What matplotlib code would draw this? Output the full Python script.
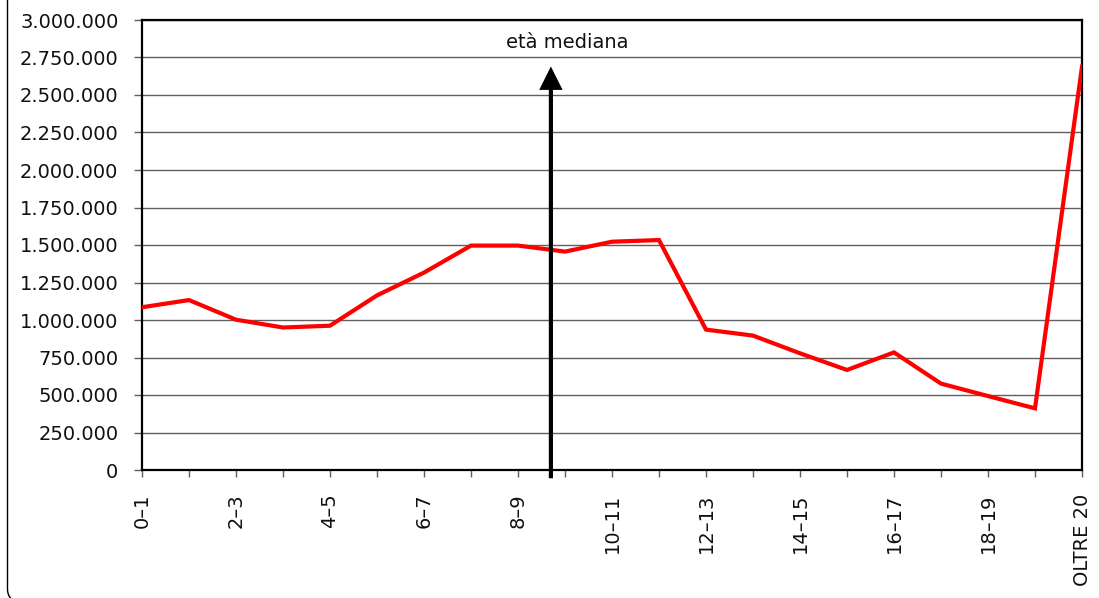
import matplotlib
matplotlib.use("Agg")
import matplotlib.pyplot as plt
from matplotlib.patches import FancyBboxPatch
from matplotlib.transforms import IdentityTransform

# ---- data ----
age_positions = list(range(21))
tick_labels = ["0–1", "", "2–3", "", "4–5", "", "6–7", "", "8–9", "",
               "10–11", "", "12–13", "", "14–15", "", "16–17", "", "18–19", "",
               "OLTRE 20"]
values = [1085000, 1133000, 1002000, 950000, 962000, 1164000, 1316000,
          1496000, 1496000, 1456000, 1522000, 1533000, 936000, 896000,
          778000, 667000, 784000, 576000, 493000, 411000, 2689000]
y_ticks = [0, 250000, 500000, 750000, 1000000, 1250000, 1500000,
           1750000, 2000000, 2250000, 2500000, 2750000, 3000000]
median_x = 8.7
median_label = "età mediana"

plt.rcParams['font.family'] = ['DejaVu Sans']

fig = plt.figure(figsize=(10.99, 5.98), dpi=100)
ax = fig.add_axes([142/1099, 1 - 470/598, (1082 - 142)/1099, (470 - 20)/598])

ax.plot(age_positions, values, color='#ff0000', lw=3, zorder=3,
        solid_joinstyle='miter')

ax.set_xlim(0, 20)
ax.set_ylim(0, 3000000)
ax.set_yticks(y_ticks)
ax.set_yticklabels([f"{v:,.0f}".replace(",", ".") for v in y_ticks])
ax.set_xticks(age_positions)
ax.set_xticklabels(tick_labels, rotation=90, va='top', ha='center')

ax.yaxis.grid(True, color='#606060', lw=1)
ax.set_axisbelow(True)
for s in ax.spines.values():
    s.set_linewidth(1.6)
    s.set_color('black')

ax.tick_params(axis='y', length=6, width=1, color='#606060', pad=11,
               labelsize=14, labelcolor='#111111')
ax.tick_params(axis='x', length=5, width=1, color='#606060', pad=12,
               labelsize=14, labelcolor='#111111')

# median arrow
ax.annotate('', xy=(median_x, 2690000), xytext=(median_x, -55000),
            arrowprops=dict(arrowstyle='-|>', lw=3, color='black',
                            mutation_scale=30, shrinkA=0, shrinkB=0,
                            joinstyle='miter', capstyle='butt'),
            annotation_clip=False, zorder=4)
ax.text(9.05, 2853000, median_label, ha='center', va='center',
        fontsize=14, color='#111111')

# figure border (rounded frame, only left side visible)
border = FancyBboxPatch((7.5, -3), 3000, 3000,
                        boxstyle="round,pad=0,rounding_size=12",
                        transform=IdentityTransform(), fill=False,
                        edgecolor='black', lw=1)
fig.patches.append(border)

fig.savefig("out.png", dpi=100)
